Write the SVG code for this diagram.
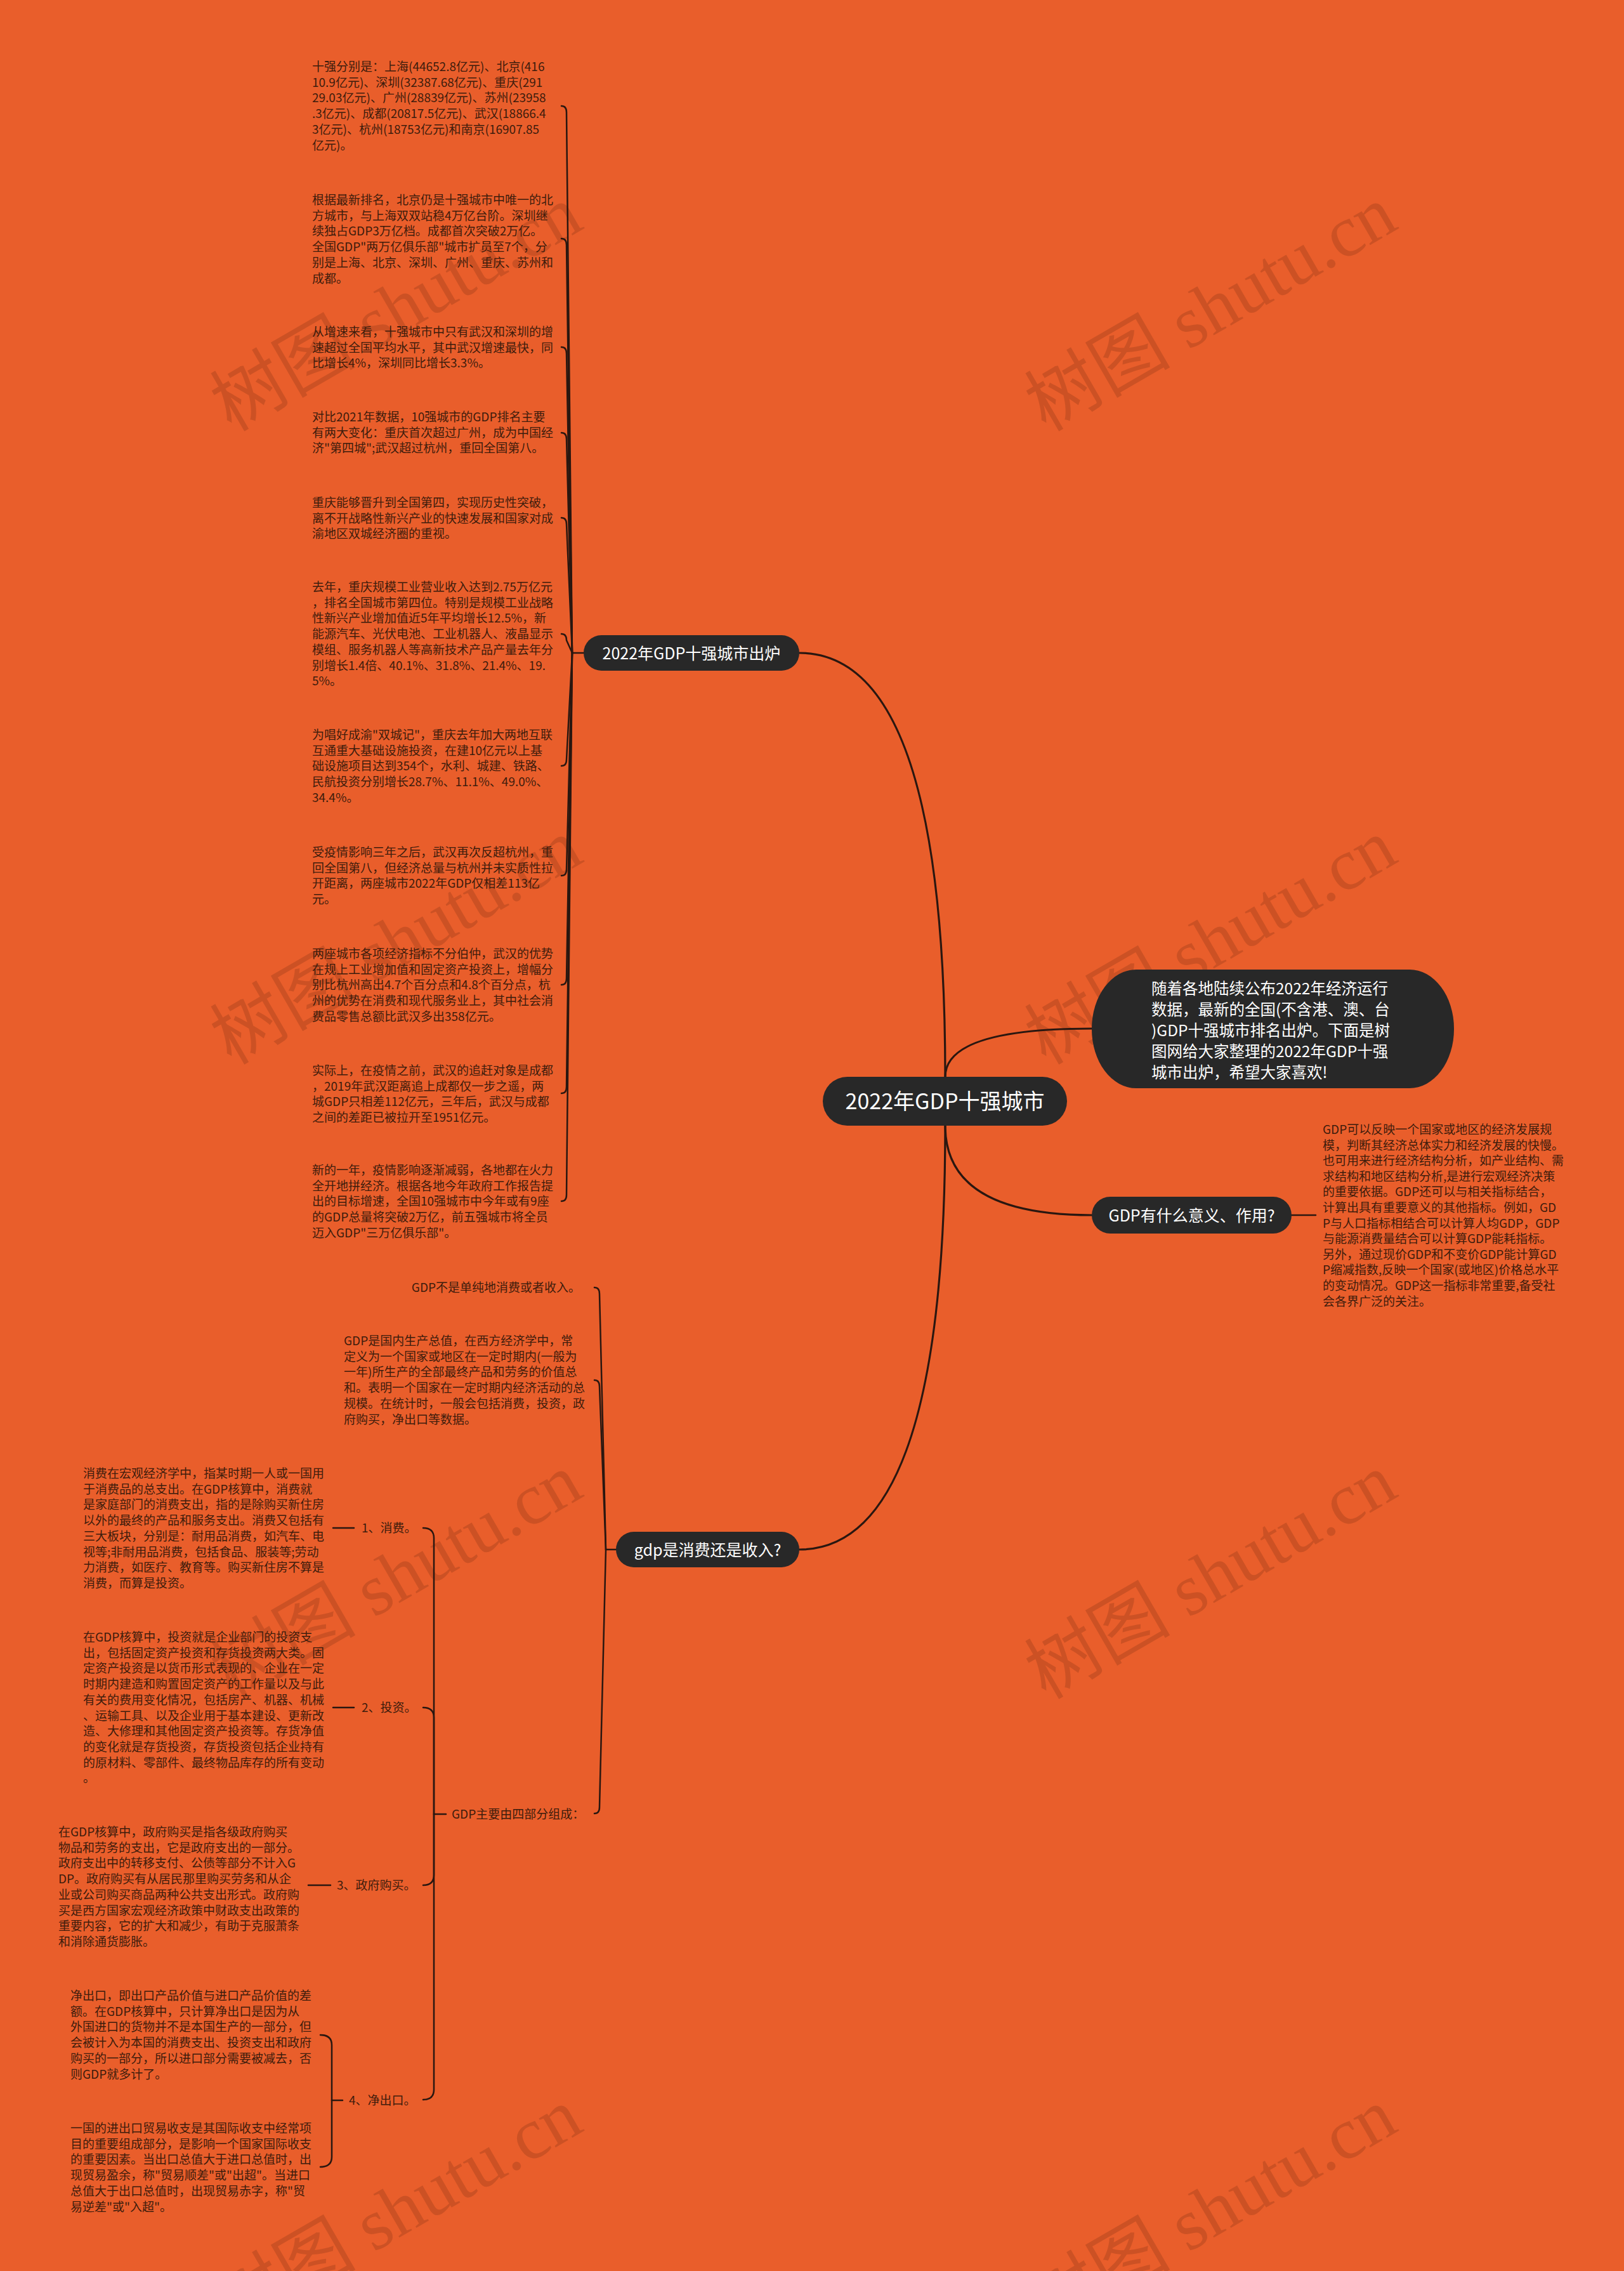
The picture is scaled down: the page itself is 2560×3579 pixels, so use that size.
<svg xmlns="http://www.w3.org/2000/svg" width="2560" height="3579" viewBox="0 0 2560 3579">
<style>
.wm{font-family:"Liberation Serif","Noto Sans CJK SC",serif;font-size:115px;fill:#7a2e10;opacity:.25}
.node{fill:#282828}
.nt{fill:#ffffff;font-family:"Noto Sans CJK SC","Noto Sans",sans-serif;text-anchor:middle}
.lt{fill:#3e1c0c;font-family:"Noto Sans CJK SC","Noto Sans",sans-serif;font-size:19px}
.ln{fill:none;stroke:#2a1710;stroke-width:2.5;stroke-linecap:round;stroke-linejoin:round}
.lm{fill:none;stroke:#2a1710;stroke-width:3.2;stroke-linecap:round}
</style>
<rect width="2560" height="3579" fill="#E95E2B"/>
<g id="watermarks">
<text class="wm" text-anchor="middle" transform="translate(644,520) rotate(-30)">树图 shutu.cn</text>
<text class="wm" text-anchor="middle" transform="translate(1928,520) rotate(-30)">树图 shutu.cn</text>
<text class="wm" text-anchor="middle" transform="translate(644,1518) rotate(-30)">树图 shutu.cn</text>
<text class="wm" text-anchor="middle" transform="translate(1928,1518) rotate(-30)">树图 shutu.cn</text>
<text class="wm" text-anchor="middle" transform="translate(644,2518) rotate(-30)">树图 shutu.cn</text>
<text class="wm" text-anchor="middle" transform="translate(1928,2518) rotate(-30)">树图 shutu.cn</text>
<text class="wm" text-anchor="middle" transform="translate(644,3518) rotate(-30)">树图 shutu.cn</text>
<text class="wm" text-anchor="middle" transform="translate(1928,3518) rotate(-30)">树图 shutu.cn</text>
</g>
<g id="connectors">
<path class="lm" d="M1490,1697 Q1490,1029 1260,1029"/>
<path class="lm" d="M1490,1774 Q1490,2442 1260,2442"/>
<path class="lm" d="M1490,1697 Q1490,1621 1721,1621"/>
<path class="lm" d="M1490,1774 Q1490,1915 1721,1915"/>
<path class="ln" d="M2036,1915 L2074,1915"/>
<path class="ln" d="M902,1029 L920,1029"/>
<path class="ln" d="M885,167 Q893,167 893,177 L902,1029"/>
<path class="ln" d="M885,376 Q893,376 893,386 L902,1029"/>
<path class="ln" d="M885,547 Q893,547 893,557 L902,1029"/>
<path class="ln" d="M885,682 Q893,682 893,692 L902,1029"/>
<path class="ln" d="M885,816 Q893,816 893,826 L902,1029"/>
<path class="ln" d="M885,999 Q893,999 893,1009 L902,1029"/>
<path class="ln" d="M885,1207 Q893,1207 893,1197 L902,1029"/>
<path class="ln" d="M885,1380 Q893,1380 893,1370 L902,1029"/>
<path class="ln" d="M885,1552 Q893,1552 893,1542 L902,1029"/>
<path class="ln" d="M885,1723 Q893,1723 893,1713 L902,1029"/>
<path class="ln" d="M885,1893 Q893,1893 893,1883 L902,1029"/>
<path class="ln" d="M955,2442 L971,2442"/>
<path class="ln" d="M937,2029 Q945,2029 945,2039 L955,2442"/>
<path class="ln" d="M937,2175 Q945,2175 945,2185 L955,2442"/>
<path class="ln" d="M937,2858 Q945,2858 945,2848 L955,2442"/>
<path class="ln" d="M684,2859 L703,2859"/>
<path class="ln" d="M667,2408 Q684,2408 684,2424 L684,2859"/>
<path class="ln" d="M667,2691 Q684,2691 684,2707 L684,2859"/>
<path class="ln" d="M667,2971 Q684,2971 684,2955 L684,2859"/>
<path class="ln" d="M667,3309 Q684,3309 684,3293 L684,2859"/>
<path class="ln" d="M525,2408 L558,2408"/>
<path class="ln" d="M525,2691 L558,2691"/>
<path class="ln" d="M486,2971 L521,2971"/>
<path class="ln" d="M523,3310 L540,3310"/>
<path class="ln" d="M505,3207 Q523,3207 523,3223 L523,3310"/>
<path class="ln" d="M505,3415 Q523,3415 523,3399 L523,3310"/>
</g>
<g id="root">
<rect class="node" x="1297" y="1697" width="385" height="77" rx="38.5"/>
<text class="nt" x="1489.5" y="1748" font-size="34">2022年GDP十强城市</text>
</g>
<g id="intro">
<rect class="node" x="1721" y="1528" width="571" height="187" rx="70" ry="93"/>
<text fill="#ffffff" font-family="Noto Sans CJK SC, Noto Sans, sans-serif" font-size="24.5">
<tspan x="1815" y="1567">随着各地陆续公布2022年经济运行</tspan>
<tspan x="1815" dy="33">数据，最新的全国(不含港、澳、台</tspan>
<tspan x="1815" dy="33">)GDP十强城市排名出炉。下面是树</tspan>
<tspan x="1815" dy="33">图网给大家整理的2022年GDP十强</tspan>
<tspan x="1815" dy="33">城市出炉，希望大家喜欢!</tspan>
</text>
</g>
<g id="branch-top10">
<rect class="node" x="920" y="1001" width="340" height="56" rx="28"/>
<text class="nt" x="1090" y="1038.5" font-size="25">2022年GDP十强城市出炉</text>
</g>
<g id="branch-meaning">
<rect class="node" x="1721" y="1886" width="315" height="58" rx="29"/>
<text class="nt" x="1878.5" y="1924.5" font-size="25">GDP有什么意义、作用?</text>
</g>
<g id="branch-gdp">
<rect class="node" x="971" y="2414" width="289" height="56" rx="28"/>
<text class="nt" x="1115.5" y="2451.5" font-size="25">gdp是消费还是收入?</text>
</g>
<g id="leaf-1"><text class="lt">
<tspan x="492" y="112">十强分别是：上海(44652.8亿元)、北京(416</tspan>
<tspan x="492" dy="24.7">10.9亿元)、深圳(32387.68亿元)、重庆(291</tspan>
<tspan x="492" dy="24.7">29.03亿元)、广州(28839亿元)、苏州(23958</tspan>
<tspan x="492" dy="24.7">.3亿元)、成都(20817.5亿元)、武汉(18866.4</tspan>
<tspan x="492" dy="24.7">3亿元)、杭州(18753亿元)和南京(16907.85</tspan>
<tspan x="492" dy="24.7">亿元)。</tspan>
</text></g>
<g id="leaf-2"><text class="lt">
<tspan x="492" y="322">根据最新排名，北京仍是十强城市中唯一的北</tspan>
<tspan x="492" dy="24.7">方城市，与上海双双站稳4万亿台阶。深圳继</tspan>
<tspan x="492" dy="24.7">续独占GDP3万亿档。成都首次突破2万亿。</tspan>
<tspan x="492" dy="24.7">全国GDP"两万亿俱乐部"城市扩员至7个，分</tspan>
<tspan x="492" dy="24.7">别是上海、北京、深圳、广州、重庆、苏州和</tspan>
<tspan x="492" dy="24.7">成都。</tspan>
</text></g>
<g id="leaf-3"><text class="lt">
<tspan x="492" y="530">从增速来看，十强城市中只有武汉和深圳的增</tspan>
<tspan x="492" dy="24.7">速超过全国平均水平，其中武汉增速最快，同</tspan>
<tspan x="492" dy="24.7">比增长4%，深圳同比增长3.3%。</tspan>
</text></g>
<g id="leaf-4"><text class="lt">
<tspan x="492" y="664">对比2021年数据，10强城市的GDP排名主要</tspan>
<tspan x="492" dy="24.7">有两大变化：重庆首次超过广州，成为中国经</tspan>
<tspan x="492" dy="24.7">济"第四城";武汉超过杭州，重回全国第八。</tspan>
</text></g>
<g id="leaf-5"><text class="lt">
<tspan x="492" y="799">重庆能够晋升到全国第四，实现历史性突破，</tspan>
<tspan x="492" dy="24.7">离不开战略性新兴产业的快速发展和国家对成</tspan>
<tspan x="492" dy="24.7">渝地区双城经济圈的重视。</tspan>
</text></g>
<g id="leaf-6"><text class="lt">
<tspan x="492" y="932">去年，重庆规模工业营业收入达到2.75万亿元</tspan>
<tspan x="492" dy="24.7">，排名全国城市第四位。特别是规模工业战略</tspan>
<tspan x="492" dy="24.7">性新兴产业增加值近5年平均增长12.5%，新</tspan>
<tspan x="492" dy="24.7">能源汽车、光伏电池、工业机器人、液晶显示</tspan>
<tspan x="492" dy="24.7">模组、服务机器人等高新技术产品产量去年分</tspan>
<tspan x="492" dy="24.7">别增长1.4倍、40.1%、31.8%、21.4%、19.</tspan>
<tspan x="492" dy="24.7">5%。</tspan>
</text></g>
<g id="leaf-7"><text class="lt">
<tspan x="492" y="1165">为唱好成渝"双城记"，重庆去年加大两地互联</tspan>
<tspan x="492" dy="24.7">互通重大基础设施投资，在建10亿元以上基</tspan>
<tspan x="492" dy="24.7">础设施项目达到354个，水利、城建、铁路、</tspan>
<tspan x="492" dy="24.7">民航投资分别增长28.7%、11.1%、49.0%、</tspan>
<tspan x="492" dy="24.7">34.4%。</tspan>
</text></g>
<g id="leaf-8"><text class="lt">
<tspan x="492" y="1350">受疫情影响三年之后，武汉再次反超杭州，重</tspan>
<tspan x="492" dy="24.7">回全国第八，但经济总量与杭州并未实质性拉</tspan>
<tspan x="492" dy="24.7">开距离，两座城市2022年GDP仅相差113亿</tspan>
<tspan x="492" dy="24.7">元。</tspan>
</text></g>
<g id="leaf-9"><text class="lt">
<tspan x="492" y="1510">两座城市各项经济指标不分伯仲，武汉的优势</tspan>
<tspan x="492" dy="24.7">在规上工业增加值和固定资产投资上，增幅分</tspan>
<tspan x="492" dy="24.7">别比杭州高出4.7个百分点和4.8个百分点，杭</tspan>
<tspan x="492" dy="24.7">州的优势在消费和现代服务业上，其中社会消</tspan>
<tspan x="492" dy="24.7">费品零售总额比武汉多出358亿元。</tspan>
</text></g>
<g id="leaf-10"><text class="lt">
<tspan x="492" y="1694">实际上，在疫情之前，武汉的追赶对象是成都</tspan>
<tspan x="492" dy="24.7">，2019年武汉距离追上成都仅一步之遥，两</tspan>
<tspan x="492" dy="24.7">城GDP只相差112亿元，三年后，武汉与成都</tspan>
<tspan x="492" dy="24.7">之间的差距已被拉开至1951亿元。</tspan>
</text></g>
<g id="leaf-11"><text class="lt">
<tspan x="492" y="1851">新的一年，疫情影响逐渐减弱，各地都在火力</tspan>
<tspan x="492" dy="24.7">全开地拼经济。根据各地今年政府工作报告提</tspan>
<tspan x="492" dy="24.7">出的目标增速，全国10强城市中今年或有9座</tspan>
<tspan x="492" dy="24.7">的GDP总量将突破2万亿，前五强城市将全员</tspan>
<tspan x="492" dy="24.7">迈入GDP"三万亿俱乐部"。</tspan>
</text></g>
<g id="leaf-meaning"><text class="lt">
<tspan x="2085" y="1787">GDP可以反映一个国家或地区的经济发展规</tspan>
<tspan x="2085" dy="24.6">模，判断其经济总体实力和经济发展的快慢。</tspan>
<tspan x="2085" dy="24.6">也可用来进行经济结构分析，如产业结构、需</tspan>
<tspan x="2085" dy="24.6">求结构和地区结构分析,是进行宏观经济决策</tspan>
<tspan x="2085" dy="24.6">的重要依据。GDP还可以与相关指标结合，</tspan>
<tspan x="2085" dy="24.6">计算出具有重要意义的其他指标。例如，GD</tspan>
<tspan x="2085" dy="24.6">P与人口指标相结合可以计算人均GDP，GDP</tspan>
<tspan x="2085" dy="24.6">与能源消费量结合可以计算GDP能耗指标。</tspan>
<tspan x="2085" dy="24.6">另外，通过现价GDP和不变价GDP能计算GD</tspan>
<tspan x="2085" dy="24.6">P缩减指数,反映一个国家(或地区)价格总水平</tspan>
<tspan x="2085" dy="24.6">的变动情况。GDP这一指标非常重要,备受社</tspan>
<tspan x="2085" dy="24.6">会各界广泛的关注。</tspan>
</text></g>
<g id="leaf-notpure"><text class="lt" x="915" y="2036" text-anchor="end">GDP不是单纯地消费或者收入。</text></g>
<g id="leaf-definition"><text class="lt">
<tspan x="542" y="2120">GDP是国内生产总值，在西方经济学中，常</tspan>
<tspan x="542" dy="24.7">定义为一个国家或地区在一定时期内(一般为</tspan>
<tspan x="542" dy="24.7">一年)所生产的全部最终产品和劳务的价值总</tspan>
<tspan x="542" dy="24.7">和。表明一个国家在一定时期内经济活动的总</tspan>
<tspan x="542" dy="24.7">规模。在统计时，一般会包括消费，投资，政</tspan>
<tspan x="542" dy="24.7">府购买，净出口等数据。</tspan>
</text></g>
<g id="leaf-four"><text class="lt" x="712" y="2866">GDP主要由四部分组成：</text></g>
<g id="label-consume"><text class="lt" x="570" y="2415">1、消费。</text></g>
<g id="label-invest"><text class="lt" x="570" y="2698">2、投资。</text></g>
<g id="label-gov"><text class="lt" x="531" y="2978">3、政府购买。</text></g>
<g id="label-net"><text class="lt" x="550" y="3317">4、净出口。</text></g>
<g id="leaf-consume"><text class="lt">
<tspan x="131" y="2329">消费在宏观经济学中，指某时期一人或一国用</tspan>
<tspan x="131" dy="24.7">于消费品的总支出。在GDP核算中，消费就</tspan>
<tspan x="131" dy="24.7">是家庭部门的消费支出，指的是除购买新住房</tspan>
<tspan x="131" dy="24.7">以外的最终的产品和服务支出。消费又包括有</tspan>
<tspan x="131" dy="24.7">三大板块，分别是：耐用品消费，如汽车、电</tspan>
<tspan x="131" dy="24.7">视等;非耐用品消费，包括食品、服装等;劳动</tspan>
<tspan x="131" dy="24.7">力消费，如医疗、教育等。购买新住房不算是</tspan>
<tspan x="131" dy="24.7">消费，而算是投资。</tspan>
</text></g>
<g id="leaf-invest"><text class="lt">
<tspan x="131" y="2587">在GDP核算中，投资就是企业部门的投资支</tspan>
<tspan x="131" dy="24.7">出，包括固定资产投资和存货投资两大类。固</tspan>
<tspan x="131" dy="24.7">定资产投资是以货币形式表现的、企业在一定</tspan>
<tspan x="131" dy="24.7">时期内建造和购置固定资产的工作量以及与此</tspan>
<tspan x="131" dy="24.7">有关的费用变化情况，包括房产、机器、机械</tspan>
<tspan x="131" dy="24.7">、运输工具、以及企业用于基本建设、更新改</tspan>
<tspan x="131" dy="24.7">造、大修理和其他固定资产投资等。存货净值</tspan>
<tspan x="131" dy="24.7">的变化就是存货投资，存货投资包括企业持有</tspan>
<tspan x="131" dy="24.7">的原材料、零部件、最终物品库存的所有变动</tspan>
<tspan x="131" dy="24.7">。</tspan>
</text></g>
<g id="leaf-gov"><text class="lt">
<tspan x="92" y="2894">在GDP核算中，政府购买是指各级政府购买</tspan>
<tspan x="92" dy="24.7">物品和劳务的支出，它是政府支出的一部分。</tspan>
<tspan x="92" dy="24.7">政府支出中的转移支付、公债等部分不计入G</tspan>
<tspan x="92" dy="24.7">DP。政府购买有从居民那里购买劳务和从企</tspan>
<tspan x="92" dy="24.7">业或公司购买商品两种公共支出形式。政府购</tspan>
<tspan x="92" dy="24.7">买是西方国家宏观经济政策中财政支出政策的</tspan>
<tspan x="92" dy="24.7">重要内容，它的扩大和减少，有助于克服萧条</tspan>
<tspan x="92" dy="24.7">和消除通货膨胀。</tspan>
</text></g>
<g id="leaf-net-1"><text class="lt">
<tspan x="111" y="3152">净出口，即出口产品价值与进口产品价值的差</tspan>
<tspan x="111" dy="24.7">额。在GDP核算中，只计算净出口是因为从</tspan>
<tspan x="111" dy="24.7">外国进口的货物并不是本国生产的一部分，但</tspan>
<tspan x="111" dy="24.7">会被计入为本国的消费支出、投资支出和政府</tspan>
<tspan x="111" dy="24.7">购买的一部分，所以进口部分需要被减去，否</tspan>
<tspan x="111" dy="24.7">则GDP就多计了。</tspan>
</text></g>
<g id="leaf-net-2"><text class="lt">
<tspan x="111" y="3361">一国的进出口贸易收支是其国际收支中经常项</tspan>
<tspan x="111" dy="24.7">目的重要组成部分，是影响一个国家国际收支</tspan>
<tspan x="111" dy="24.7">的重要因素。当出口总值大于进口总值时，出</tspan>
<tspan x="111" dy="24.7">现贸易盈余，称"贸易顺差"或"出超"。当进口</tspan>
<tspan x="111" dy="24.7">总值大于出口总值时，出现贸易赤字，称"贸</tspan>
<tspan x="111" dy="24.7">易逆差"或"入超"。</tspan>
</text></g>
</svg>
